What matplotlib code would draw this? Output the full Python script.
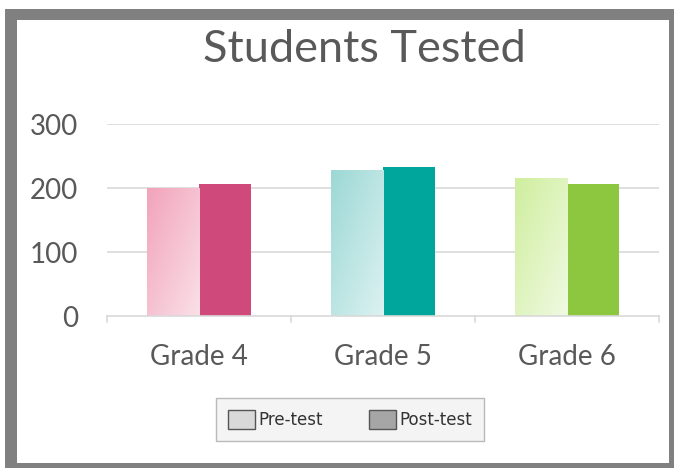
import matplotlib
matplotlib.use("Agg")
import matplotlib.pyplot as plt
import numpy as np
from matplotlib.colors import to_rgb
from matplotlib.patches import Rectangle, Patch

TITLE = "Students Tested"
grades = ["Grade 4", "Grade 5", "Grade 6"]
pre_test = [201, 228, 216]
post_test = [206, 234, 206]
series_labels = ["Pre-test", "Post-test"]
y_ticks = [0, 100, 200, 300]

# pre-test bars fade from a darker tint (top left) to a pale tint (bottom right)
pre_dark = ["#f2a3bb", "#9cd8d5", "#cfee9e"]
pre_light = ["#fae0e8", "#dcf2f1", "#f0fae2"]
post_colors = ["#cf4a7a", "#00a59c", "#8dc63f"]

TEXT = "#595959"
GRID = "#d9d9d9"

plt.rcParams["font.family"] = ["Lato", "DejaVu Sans"]

W, H = 674, 468
fig = plt.figure(figsize=(W / 100, H / 100), dpi=100)

# gray frame around the chart
fig.patches.append(Rectangle((5 / W, 0), 1 - 5 / W, 1 - 9 / H, transform=fig.transFigure,
                             facecolor="#808080", edgecolor="none", zorder=-2))
fig.patches.append(Rectangle((17 / W, 5 / H), (669 - 17) / W, (463 - 20) / H,
                             transform=fig.transFigure, facecolor="white", edgecolor="none", zorder=-1))

ax = fig.add_axes([107 / W, (H - 316.3) / H, (659 - 107) / W, 192 / H])
ax.set_facecolor("none")

x = np.arange(len(grades))
width = 0.285
pre_bars = ax.bar(x - width / 2, pre_test, width, color="none", edgecolor="none", zorder=2)
ax.bar(x + width / 2, post_test, width, color=post_colors, edgecolor="none", zorder=2)

uu, vv = np.meshgrid(np.linspace(0, 1, 60), np.linspace(0, 1, 120))
t = (uu + vv) / 2  # vv=0 at top row (origin upper)
for bar, dark, light in zip(pre_bars, pre_dark, pre_light):
    d, l = np.array(to_rgb(dark)), np.array(to_rgb(light))
    img = d + t[..., None] * (l - d)
    x0, h = bar.get_x(), bar.get_height()
    im = ax.imshow(img, extent=[x0, x0 + bar.get_width(), 0, h], aspect="auto",
                   origin="upper", zorder=2, interpolation="bilinear")
    im.set_clip_path(bar)

ax.set_xlim(-0.5, len(grades) - 0.5)
ax.set_ylim(0, 300)
ax.set_yticks(y_ticks)
ax.set_yticklabels([str(v) for v in y_ticks], fontsize=20, color=TEXT)
ax.set_xticks(x)
ax.set_xticklabels(grades, fontsize=20, color=TEXT)
ax.tick_params(axis="y", length=0, pad=21)
ax.tick_params(axis="x", length=0, pad=20)
for v in y_ticks[1:]:
    ax.axhline(v, color=GRID, linewidth=1.2, zorder=1)
for s in ["top", "right", "left"]:
    ax.spines[s].set_visible(False)
ax.spines["bottom"].set_color(GRID)
ax.spines["bottom"].set_linewidth(1.2)
for b in np.arange(-0.5, len(grades), 1.0):
    ax.plot([b, b], [0, -9], color=GRID, linewidth=1.2, clip_on=False, zorder=1)

fig.text(364 / W, 1 - 50 / H, TITLE, ha="center", va="center", fontsize=32.5, color=TEXT)

handles = [Patch(facecolor="#d9d9d9", edgecolor="#555555", label=series_labels[0]),
           Patch(facecolor="#a6a6a6", edgecolor="#555555", label=series_labels[1])]
leg = fig.legend(handles=handles, loc="center", bbox_to_anchor=(350 / W, 1 - 419.5 / H), ncol=2,
                 fancybox=False, frameon=True, prop={"family": "DejaVu Sans", "size": 12},
                 handlelength=1.6, handleheight=1.45, handletextpad=0.2, columnspacing=2.8,
                 borderpad=0.7, borderaxespad=0, labelcolor="#333333")
leg.get_frame().set_facecolor("#f2f2f2")
leg.get_frame().set_edgecolor("#aaaaaa")

fig.savefig("out.png", dpi=100)
